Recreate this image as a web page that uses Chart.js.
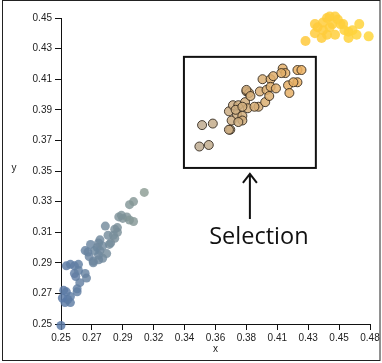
<!DOCTYPE html>
<html lang="en">
<head>
<meta charset="UTF-8">
<title>Selection scatter</title>
<script src="https://cdn.jsdelivr.net/npm/chart.js"></script>
<style>
  html,body{margin:0;padding:0;background:#fff;}
  #wrap{position:relative;width:382px;height:363px;}
</style>
</head>
<body>
<div id="wrap"><canvas id="myChart" width="382" height="363"></canvas></div>
<script>
// tick labels
const xTickLabels = ['0.25','0.27','0.29','0.32','0.34','0.36','0.38','0.41','0.43','0.45','0.48'];
const yTickLabels = ['0.25','0.27','0.29','0.31','0.33','0.35','0.37','0.39','0.41','0.43','0.45'];
const xRange = [0.25, 0.48];
const yRange = [0.25, 0.45];

// lower cluster (not selected)
const lowerPts = [
  [0.250,0.249],[0.252,0.272],[0.254,0.271],[0.257,0.268],[0.253,0.264],[0.255,0.266],
  [0.257,0.264],[0.251,0.267],[0.262,0.273],[0.262,0.271],[0.260,0.283],[0.261,0.281],
  [0.264,0.277],[0.268,0.283],[0.269,0.280],[0.254,0.288],[0.257,0.289],[0.263,0.289],
  [0.260,0.288],[0.272,0.302],[0.278,0.303],[0.271,0.294],[0.274,0.291],[0.278,0.295],
  [0.279,0.298],[0.277,0.300],[0.281,0.293],[0.284,0.296],[0.274,0.290],[0.275,0.298],
  [0.278,0.292],[0.283,0.314],[0.285,0.308],[0.287,0.303],[0.290,0.306],[0.292,0.310],
  [0.292,0.313],[0.290,0.312],[0.289,0.308],[0.293,0.320],[0.296,0.319],[0.299,0.320],
  [0.301,0.318],[0.304,0.317],[0.295,0.321],[0.301,0.328],[0.304,0.330],[0.312,0.336],
  [0.268,0.298],[0.270,0.297],[0.279,0.305],[0.263,0.285],[0.286,0.302],[0.281,0.301]
];

// points inside the selection box
const selectedPts = [
  [0.353,0.366],[0.360,0.367],[0.355,0.380],[0.363,0.381],[0.376,0.377],[0.377,0.383],
  [0.375,0.389],[0.378,0.393],[0.381,0.387],[0.385,0.386],[0.382,0.393],[0.387,0.395],
  [0.389,0.391],[0.388,0.402],[0.390,0.401],[0.388,0.403],[0.391,0.399],[0.397,0.392],
  [0.394,0.392],[0.400,0.410],[0.406,0.410],[0.398,0.402],[0.403,0.403],[0.402,0.395],
  [0.405,0.399],[0.406,0.405],[0.410,0.404],[0.408,0.412],[0.415,0.417],[0.417,0.414],
  [0.414,0.414],[0.419,0.406],[0.420,0.401],[0.426,0.408],[0.426,0.416],[0.429,0.416],
  [0.423,0.408],[0.385,0.383],[0.380,0.390],[0.375,0.377],[0.385,0.392],[0.382,0.382]
];

// upper cluster (not selected)
const upperPts = [
  [0.432,0.435],[0.439,0.446],[0.439,0.440],[0.444,0.437],[0.445,0.442],[0.448,0.450],
  [0.450,0.451],[0.454,0.451],[0.452,0.446],[0.448,0.439],[0.454,0.439],[0.458,0.446],
  [0.460,0.446],[0.461,0.442],[0.464,0.441],[0.464,0.437],[0.467,0.442],[0.470,0.439],
  [0.472,0.446],[0.479,0.438],[0.450,0.444],[0.445,0.447],[0.456,0.449],[0.441,0.444]
];

// selection box corners [x0, y0, x1, y1]
const selectionBox = [0.3415, 0.352, 0.4397, 0.4246];

function toXY(list){ return list.map(p => ({x:p[0], y:p[1]})); }

function mix(a, b, t){
  t = Math.max(0, Math.min(1, t));
  return a.map((v,i) => Math.round(v + (b[i]-v)*t));
}
function shade(from, to, x0, x1, alpha){
  return ctx => {
    const v = ctx.raw ? ctx.raw.x : x0;
    const c = mix(from, to, (v - x0)/(x1 - x0));
    return 'rgba(' + c.join(',') + ',' + alpha + ')';
  };
}

function evenTicks(range, n){
  const out = [];
  for (let i = 0; i < n; i++) out.push({value: range[0] + (range[1]-range[0])*i/(n-1)});
  return out;
}

const decorations = {
  id: 'decorations',
  afterDatasetsDraw(chart){
    const {ctx, scales:{x, y}} = chart;
    ctx.save();
    // outer frame
    ctx.strokeStyle = '#222';
    ctx.lineWidth = 1;
    ctx.strokeRect(2.5, 0.5, 377.5, 360);

    // axis titles
    ctx.fillStyle = '#222';
    ctx.font = '10px "Liberation Sans", Arial, sans-serif';
    ctx.textAlign = 'center';
    ctx.textBaseline = 'middle';
    ctx.fillText('x', (x.left + x.right)/2, 349);
    ctx.fillText('y', 14, (y.top + y.bottom)/2 - 3);

    // selection box
    const bx0 = x.getPixelForValue(selectionBox[0]);
    const bx1 = x.getPixelForValue(selectionBox[2]);
    const by0 = y.getPixelForValue(selectionBox[3]);
    const by1 = y.getPixelForValue(selectionBox[1]);
    ctx.strokeStyle = '#111';
    ctx.lineWidth = 2;
    ctx.strokeRect(bx0, by0, bx1 - bx0, by1 - by0);

    // arrow pointing at the box
    const ax = (bx0 + bx1)/2;
    const tip = by1 + 6;
    ctx.lineWidth = 2;
    ctx.beginPath();
    ctx.moveTo(ax, tip + 45);
    ctx.lineTo(ax, tip);
    ctx.moveTo(ax - 7, tip + 9);
    ctx.lineTo(ax, tip);
    ctx.lineTo(ax + 7, tip + 9);
    ctx.stroke();

    // label
    ctx.fillStyle = '#111';
    ctx.font = '23.5px "Open Sans", sans-serif';
    ctx.textAlign = 'center';
    ctx.textBaseline = 'alphabetic';
    ctx.fillText('Selection', ax + 9, by1 + 76);
    ctx.restore();
  }
};

new Chart(document.getElementById('myChart'), {
  type: 'scatter',
  data: {
    datasets: [
      {
        label: 'lower',
        data: toXY(lowerPts),
        pointRadius: 4.5,
        pointHoverRadius: 4.5,
        borderWidth: 0,
        backgroundColor: shade([88,120,166],[140,156,148],0.25,0.312,0.82),
        clip: false
      },
      {
        label: 'selected',
        data: toXY(selectedPts),
        pointRadius: 4.5,
        pointHoverRadius: 4.5,
        borderWidth: 1,
        borderColor: 'rgba(45,35,25,0.85)',
        backgroundColor: shade([188,172,148],[236,176,96],0.35,0.43,0.85),
        clip: false
      },
      {
        label: 'upper',
        data: toXY(upperPts),
        pointRadius: 5,
        pointHoverRadius: 5,
        borderWidth: 0,
        backgroundColor: shade([255,200,60],[255,214,60],0.43,0.48,0.85),
        clip: false
      }
    ]
  },
  options: {
    responsive: false,
    animation: false,
    devicePixelRatio: 1,
    layout: { padding: { left: 0, top: 18, right: 12, bottom: 0 } },
    plugins: { legend: { display: false }, tooltip: { enabled: false } },
    scales: {
      x: {
        type: 'linear',
        min: xRange[0], max: xRange[1],
        afterBuildTicks: s => { s.ticks = evenTicks(xRange, xTickLabels.length); },
        afterFit: s => { s.height = 39; },
        grid: { drawOnChartArea: false, tickLength: 6, color: '#111' },
        border: { color: '#111', width: 1 },
        ticks: {
          padding: 2,
          maxRotation: 0,
          autoSkip: false,
          color: '#222',
          font: { family: '"Liberation Sans", Arial, sans-serif', size: 10 },
          callback: (v, i) => xTickLabels[i]
        }
      },
      y: {
        type: 'linear',
        min: yRange[0], max: yRange[1],
        afterBuildTicks: s => { s.ticks = evenTicks(yRange, yTickLabels.length); },
        afterFit: s => { s.width = 61; },
        grid: { drawOnChartArea: false, tickLength: 6, color: '#111' },
        border: { color: '#111', width: 1 },
        ticks: {
          padding: 3,
          autoSkip: false,
          color: '#222',
          font: { family: '"Liberation Sans", Arial, sans-serif', size: 10 },
          callback: (v, i) => yTickLabels[i]
        }
      }
    }
  },
  plugins: [decorations]
});
</script>
</body>
</html>
